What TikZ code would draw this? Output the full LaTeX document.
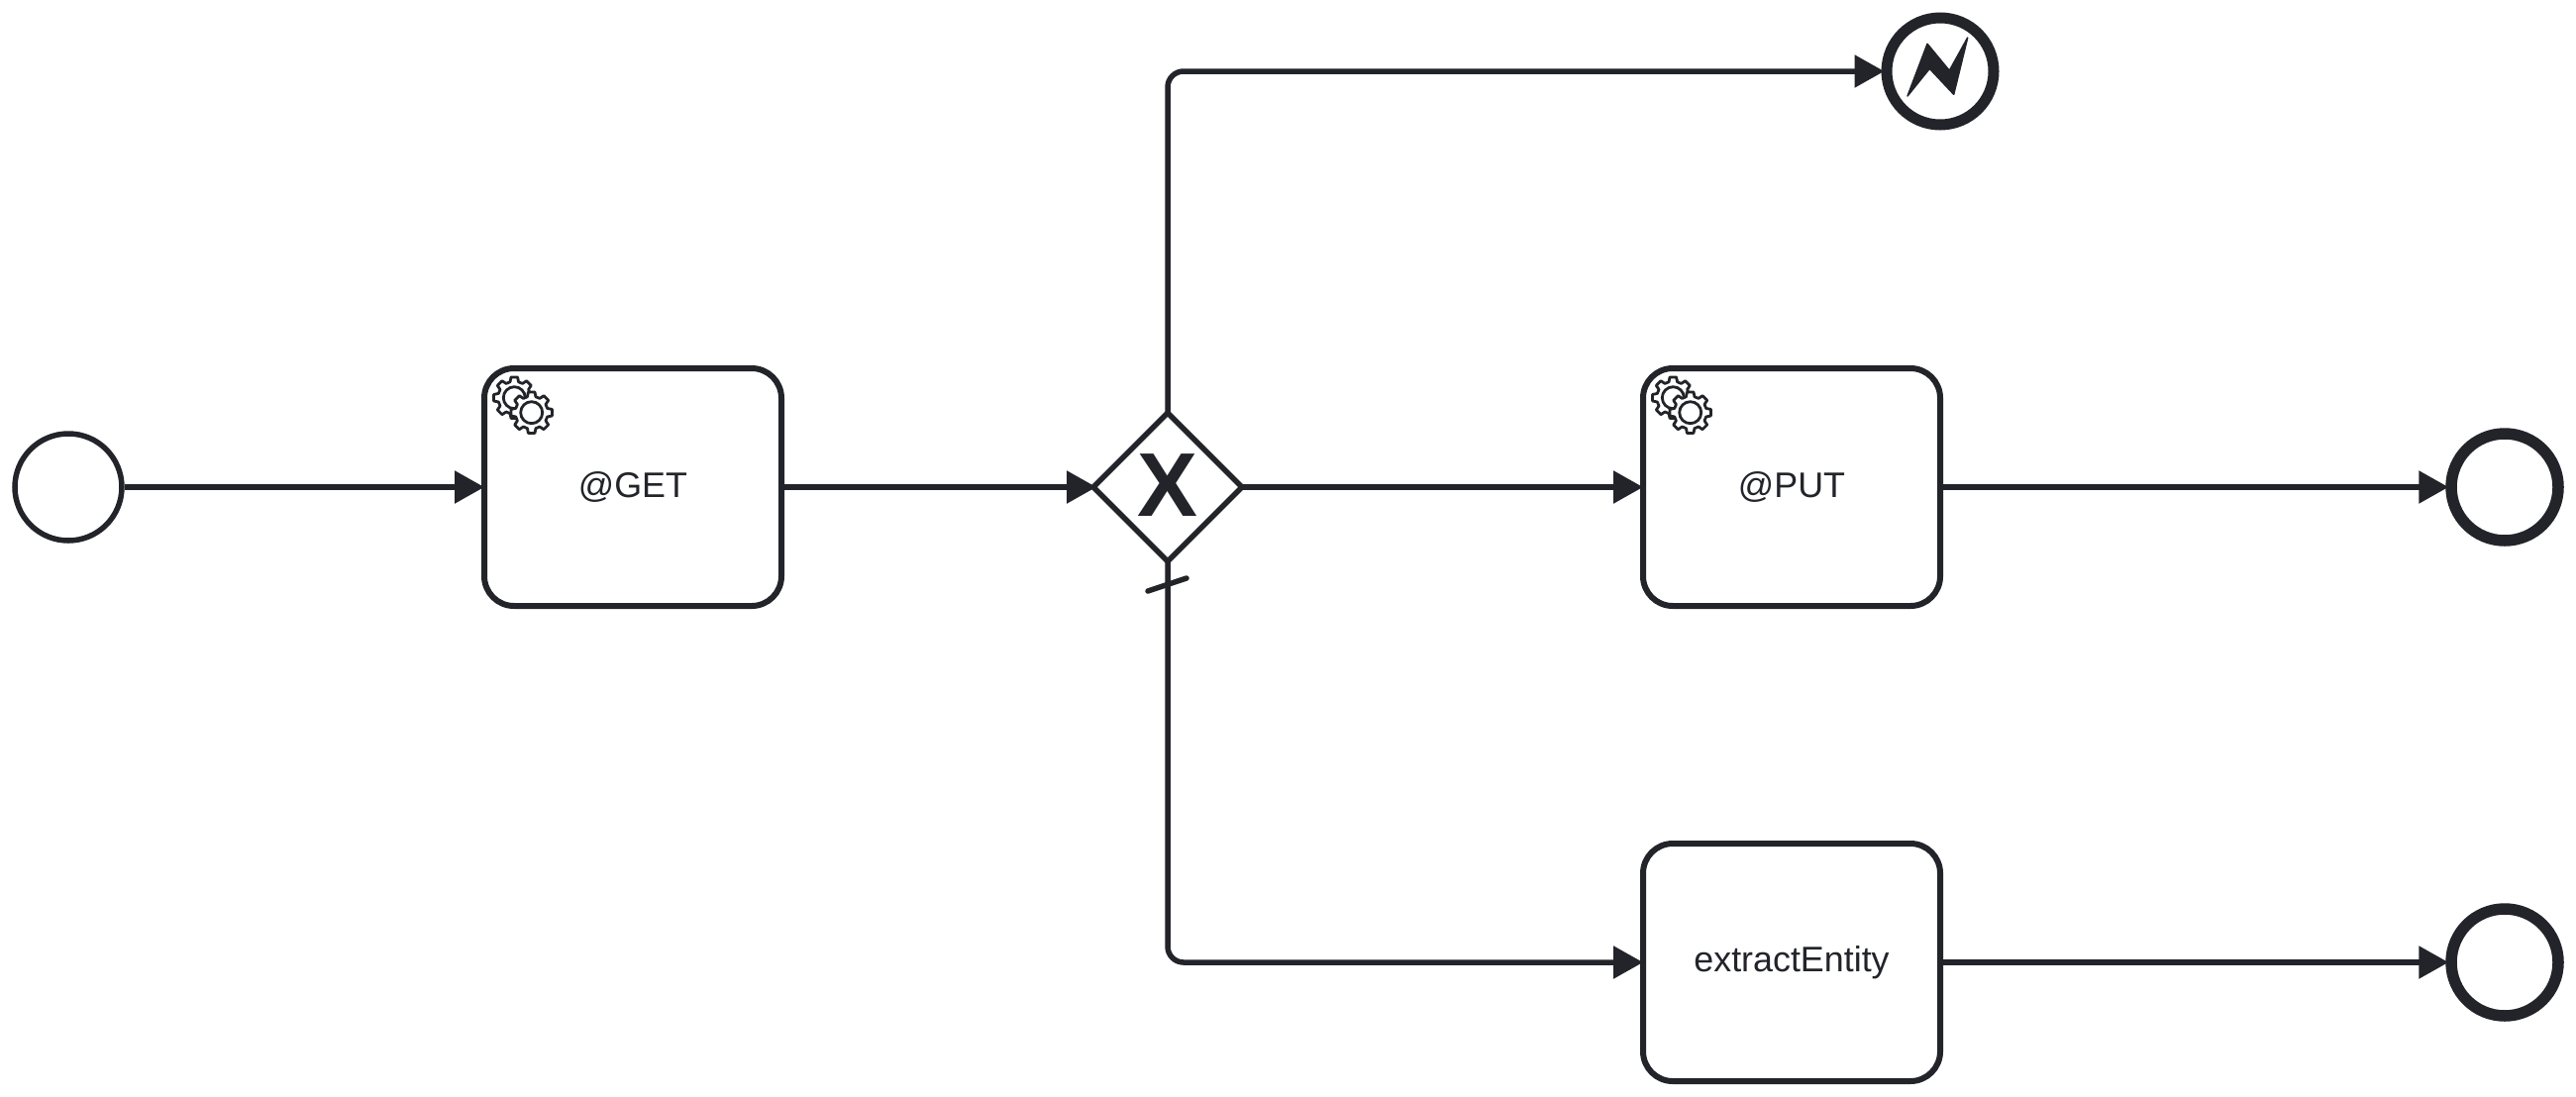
\documentclass[tikz,border=0pt]{standalone}
\usepackage{fontspec}
\setmainfont{Liberation Sans}
\usepackage{tikz}
\usetikzlibrary{shapes.geometric, arrows.meta, positioning}
\definecolor{bpmnink}{HTML}{22242A}
\begin{document}
\begin{tikzpicture}[
    node distance=3cm,
    task/.style={rectangle, draw=bpmnink, fill=white, text=bpmnink, line width=0.06cm, rounded corners=0.3cm, minimum width=3cm, minimum height=2.4cm, font=\fontsize{10.2}{12}\selectfont},
    startevent/.style={circle, draw=bpmnink, fill=white, line width=0.055cm, minimum size=1.08cm, inner sep=0pt},
    endevent/.style={circle, draw=bpmnink, fill=white, line width=0.115cm, minimum size=1.08cm, inner sep=0pt},
    errorend/.style={circle, draw=bpmnink, fill=white, line width=0.11cm, minimum size=1.08cm, inner sep=0pt},
    gateway/.style={diamond, draw=bpmnink, fill=white, text=bpmnink, line width=0.055cm, minimum width=1.5cm, minimum height=1.5cm, inner sep=0pt, outer sep=0pt, font=\fontsize{26}{28}\selectfont\bfseries},
    arrow/.style={-{Triangle[length=0.3cm, width=0.32cm]}, draw=bpmnink, line width=0.055cm, shorten >=-0.03cm},
    gearwheel/.pic={
        \draw[draw=bpmnink, fill=white, line width=0.028cm, line join=round] (-15:0.165)
            \foreach \a in {0,45,...,315} { -- (\a-15:0.165) -- (\a-9:0.21) -- (\a+9:0.21) -- (\a+15:0.165) } -- cycle;
        \draw[draw=bpmnink, fill=white, line width=0.028cm] (0,0) circle (0.11);
    }
]
\useasboundingbox (0,0) rectangle (26.01,11.07);

% Main row, left to right
\node[startevent] (start_event) at (0.69,6.15) {};
\node[task, right of=start_event, xshift=2.7cm] (get_task) {@GET};
\node[gateway, right of=get_task, xshift=2.4cm] (xor_gateway) {\raisebox{0.03cm}{X}};
\node[task, right of=xor_gateway, xshift=3.3cm] (put_task) {@PUT};
\node[endevent, right of=put_task, xshift=4.2cm] (put_end) {};

% Lower branch
\node[task, below of=put_task, yshift=-1.8cm] (extract_task) {extractEntity};
\node[endevent, right of=extract_task, xshift=4.2cm] (extract_end) {};

% Error branch
\node[errorend, above of=xor_gateway, yshift=1.2cm, xshift=7.8cm] (error_end) {};
\fill[bpmnink, draw=bpmnink, line width=0.015cm, line join=round] ([shift={(-0.33,-0.25)}]error_end.center) -- ++(0.2,0.527) -- ++(0.223,-0.27) -- ++(0.184,0.333) -- ++(-0.14,-0.573) -- ++(-0.244,0.26) -- cycle;

% Gears of the service tasks
\foreach \task in {get_task, put_task} {
    \pic at ([shift={(0.333,-0.327)}]\task.north west) {gearwheel};
    \pic at ([shift={(0.507,-0.477)}]\task.north west) {gearwheel};
}

% Sequence flows
\draw[arrow] (start_event) -- (get_task);
\draw[arrow] (get_task) -- (xor_gateway);
\draw[arrow] (xor_gateway) -- (put_task);
\draw[arrow] (put_task) -- (put_end);
\draw[arrow] (extract_task) -- (extract_end);
\draw[arrow, rounded corners=0.16cm] (xor_gateway) |- (error_end);
\draw[arrow, rounded corners=0.16cm] (xor_gateway) |- (extract_task);

% Default flow mark
\draw[draw=bpmnink, line width=0.055cm, line cap=round] ([shift={(-0.2,-0.3)}]xor_gateway.south) -- ([shift={(0.19,-0.17)}]xor_gateway.south);

\end{tikzpicture}
\end{document}
